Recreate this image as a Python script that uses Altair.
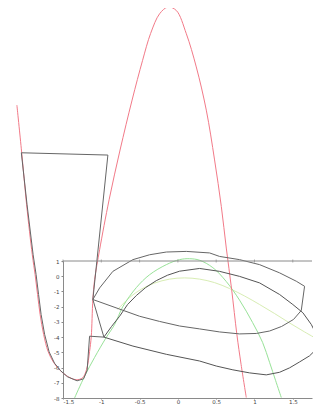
import altair as alt
import pandas as pd

# ---- data (data units) ----
red_x = [-2.102, -2.040, -1.975, -1.901, -1.864, -1.832, -1.799, -1.753, -1.695, -1.623,
         -1.544, -1.453, -1.329, -1.244, -1.192, -1.153, -1.131, -1.110, -1.087, -1.022,
         -0.898, -0.755, -0.598, -0.461, -0.356, -0.239, -0.131, -0.021, 0.110, 0.240,
         0.371, 0.479, 0.567, 0.632, 0.702, 0.770, 0.825, 0.893]
red_y = [11.24, 8.16, 4.69, 1.41, 0.10, -1.20, -2.51, -3.82, -4.94, -5.66,
         -6.15, -6.54, -6.80, -6.67, -6.12, -4.94, -3.96, -1.53, -0.22, 1.74,
         5.02, 8.29, 11.57, 14.18, 15.95, 17.24, 17.68, 17.46, 15.93, 13.75,
         10.91, 7.64, 4.58, 1.85, -0.88, -3.82, -5.79, -7.97]

# loop 1: quadrilateral + left descent
k1_x = [-1.110, -0.914, -2.044, -1.969, -1.890, -1.851, -1.819, -1.786, -1.740, -1.681,
        -1.610, -1.531, -1.440, -1.316, -1.231, -1.185, -1.153, -0.966, -1.110]
k1_y = [-1.53, 7.96, 8.11, 4.69, 1.41, 0.10, -1.20, -2.51, -3.82, -4.97,
        -5.72, -6.21, -6.61, -6.87, -6.74, -6.18, -3.94, -4.00, -1.53]

# loop 2: outer top arc
k2_x = [-1.110, -1.022, -0.849, -0.587, -0.369, -0.151, 0.110, 0.414, 0.544, 0.805,
        1.067, 1.328, 1.546, 1.654, 1.611, 1.510, 1.354, 1.197, 1.023, 0.805,
        0.544, 0.283, 0.022, -0.239, -0.500, -1.110]
k2_y = [-1.53, -0.77, 0.32, 1.09, 1.41, 1.59, 1.63, 1.53, 1.30, 1.09,
        0.76, 0.22, -0.33, -0.66, -2.25, -2.84, -3.30, -3.60, -3.76, -3.79,
        -3.66, -3.46, -3.27, -2.97, -2.63, -1.53]

# loop 3: inner arc
k3_x = [-0.966, -0.866, -0.761, -0.657, -0.543, -0.422, -0.282, -0.134, 0.022, 0.283,
        0.544, 0.805, 1.067, 1.328, 1.501, 1.632, 1.742, 1.807, 1.828, 1.804,
        1.719, 1.589, 1.458, 1.328, 1.154, 0.936, 0.718, 0.501, 0.283, -0.151,
        -0.587, -0.966]
k3_y = [-4.00, -3.30, -2.63, -1.86, -1.27, -0.75, -0.29, 0.07, 0.33, 0.51,
        0.32, -0.01, -0.44, -1.20, -1.86, -2.40, -3.17, -3.82, -4.35, -4.81,
        -5.23, -5.63, -6.02, -6.31, -6.48, -6.35, -6.15, -5.90, -5.57, -5.13,
        -4.59, -4.00]

g1_x = [-1.349, -1.218, -1.087, -0.935, -0.826, -0.718, -0.543, -0.369, -0.151, 0.022,
        0.153, 0.283, 0.457, 0.632, 0.805, 0.975, 1.106, 1.197, 1.275, 1.350]
g1_y = [-8.00, -6.57, -5.33, -4.02, -3.17, -1.99, -0.75, 0.10, 0.76, 1.09,
        1.15, 1.05, 0.56, -0.35, -1.57, -3.04, -4.35, -5.66, -6.84, -7.97]

g2_x = [-0.787, -0.631, -0.474, -0.304, -0.108, 0.087, 0.283, 0.479, 0.675, 0.871,
        1.067, 1.262, 1.458, 1.654, 1.850]
g2_y = [-2.19, -1.40, -0.84, -0.45, -0.19, -0.11, -0.19, -0.42, -0.81, -1.30,
        -1.86, -2.45, -3.07, -3.66, -4.22]

x_ticks = [-1.5, -1, -0.5, 0, 0.5, 1, 1.5]
y_ticks = [1, 0, -1, -2, -3, -4, -5, -6, -7, -8]

series_names = ["g2", "g1", "k1", "k2", "k3", "red"]
series_colors = ["#d8edb4", "#98e298", "#666666", "#666666", "#555555", "#f27a88"]


def frame(name, xs, ys):
    return pd.DataFrame({"x": xs, "y": ys, "series": name, "i": list(range(len(xs)))})


smooth_data = pd.concat([
    frame("g2", g2_x, g2_y),
    frame("g1", g1_x, g1_y),
    frame("red", red_x, red_y),
], ignore_index=True)

loop_data = pd.concat([
    frame("k1", k1_x, k1_y),
    frame("k2", k2_x, k2_y),
    frame("k3", k3_x, k3_y),
], ignore_index=True)

xscale = alt.Scale(domain=[-1.5, 1.751], nice=False, zero=False)
yscale = alt.Scale(domain=[-8, 1], nice=False, zero=False)

xaxis = alt.Axis(values=x_ticks, labelExpr="'' + datum.value", grid=False,
                 tickSize=1, labelPadding=0, labelOverlap=False,
                 domainColor="#8a8a8a", tickColor="#8a8a8a")
yaxis = alt.Axis(values=y_ticks, labelExpr="'' + datum.value", grid=False,
                 tickSize=2, labelPadding=2, labelOverlap=False,
                 domainColor="#8a8a8a", tickColor="#8a8a8a")

X = alt.X("x:Q", scale=xscale, title=None, axis=xaxis)
Y = alt.Y("y:Q", scale=yscale, title=None, axis=yaxis)
C = alt.Color("series:N", scale=alt.Scale(domain=series_names, range=series_colors),
              legend=None)

smooth_lines = alt.Chart(smooth_data).mark_line(
    strokeWidth=1, clip=False, interpolate="catmull-rom"
).encode(x=X, y=Y, color=C, detail="series:N", order="i:Q")

loop_lines = alt.Chart(loop_data).mark_line(strokeWidth=1, clip=False).encode(
    x=X, y=Y, color=C, detail="series:N", order="i:Q"
)

top_line = alt.Chart(pd.DataFrame({"y": [1]})).mark_rule(color="#8a8a8a", strokeWidth=1).encode(
    y=Y
)

top_ticks = alt.Chart(pd.DataFrame({"x": x_ticks, "y": [1] * len(x_ticks)})).mark_tick(
    color="#8a8a8a", orient="vertical", size=3, thickness=1
).encode(
    x=X,
    y=Y,
)

chart = alt.layer(smooth_lines, loop_lines, top_line, top_ticks).properties(
    width=249,
    height=137,
    autosize=alt.AutoSizeParams(type="none"),
    padding={"left": 55, "top": 253, "right": 1, "bottom": 6},
).configure_view(stroke=None).configure_axis(
    labelFont="DejaVu Sans", labelFontSize=5.5, labelColor="#444444"
)

chart.save("out.html", embed_options={"renderer": "svg", "actions": False})
